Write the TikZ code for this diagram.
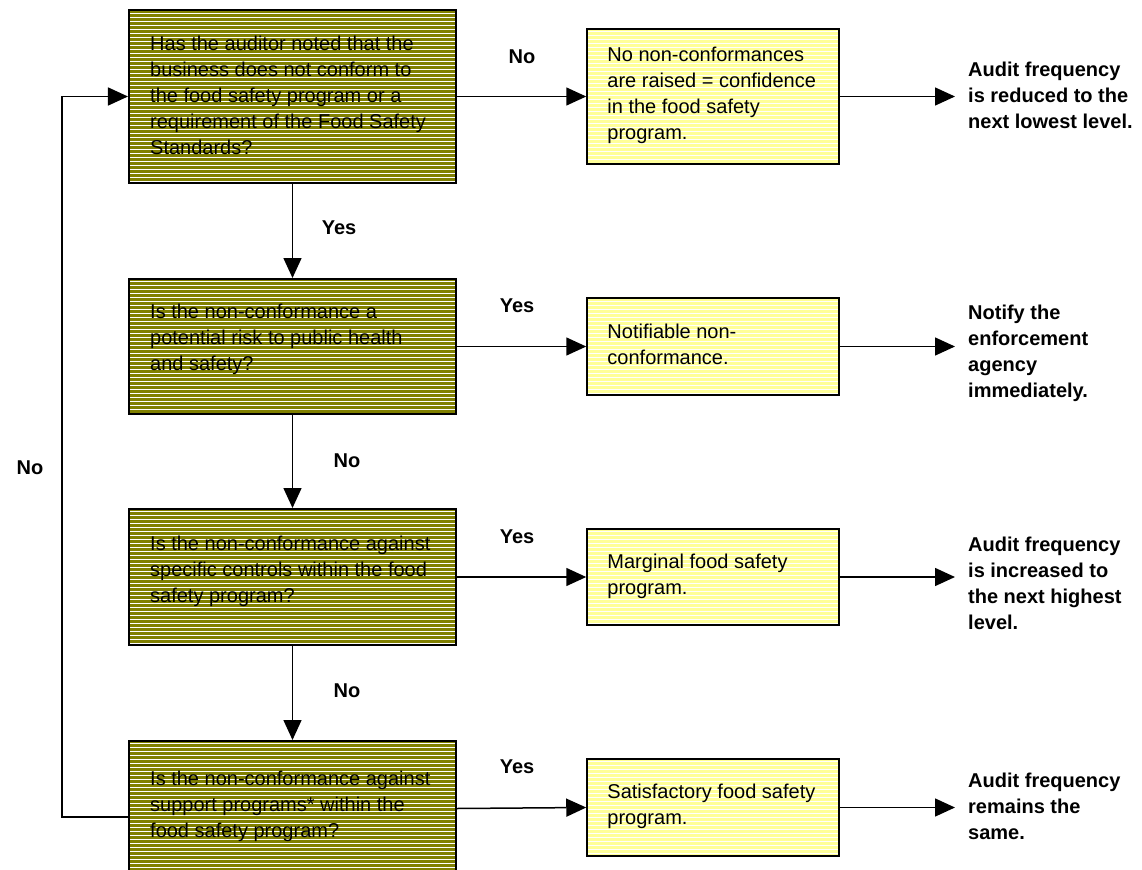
\documentclass[tikz,border=0pt]{standalone}
\usepackage{fontspec}
\setmainfont{Liberation Sans}
\usepackage{tikz}
\usetikzlibrary{positioning}
\usetikzlibrary{arrows.meta}

\definecolor{qolive}{RGB}{128,128,0}
\definecolor{oyellow}{RGB}{255,255,153}

\tikzset{
  stripe start/.store in=\stripestart, stripe start=2.5,
  stripes/.style = {path picture={
    \foreach \k in {0,4,...,180}
      \draw[white, line width=#1]
        ([yshift=-\k bp-\stripestart bp]path picture bounding box.north west) --
        ([yshift=-\k bp-\stripestart bp]path picture bounding box.north east);}},
  question/.style = {draw=black, line width=2bp, fill=qolive, stripes=1bp,
    minimum width=327bp, minimum height=135bp, inner sep=0pt},
  outcome/.style = {draw=black, line width=1.5bp, fill=oyellow, stripes=1bp,
    minimum width=252bp, minimum height=97bp, inner sep=0pt},
  boxtext/.style = {align=left, inner sep=0pt, font=\fontsize{20bp}{26bp}\selectfont},
  action/.style = {anchor=north west, align=left, inner sep=0pt,
    font=\fontsize{20bp}{26bp}\selectfont\bfseries},
  answer/.style = {inner sep=0pt, font=\fontsize{20bp}{26bp}\selectfont\bfseries},
  arrow/.style = {-{Triangle[length=20bp,width=18bp]}, line width=1.5bp}
}

\begin{document}
\begin{tikzpicture}[x=1bp,y=-1bp]
\path[use as bounding box, clip] (0,0) rectangle (1142,870);

% questions
\node[question, minimum height=173bp, stripe start=3.2] (q1) at (292.5,96.5) {};
\node[question] (q2) at (292.5,346.5) {};
\node[question, minimum height=136bp] (q3) at (292.5,577) {};
\node[question] (q4) at (292.5,808.5) {};
\node[boxtext, below right=27bp and 22bp of q1.north west] (q1t) {Has the auditor noted that the\\business does not conform to\\the food safety program or a\\requirement of the Food Safety\\Standards?};
\node[boxtext, below right=26bp and 22bp of q2.north west] (q2t) {Is the non-conformance a\\potential risk to public health\\and safety?};
\node[boxtext, below right=28bp and 22bp of q3.north west] (q3t) {Is the non-conformance against\\specific controls within the food\\safety program?};
\node[boxtext, below right=31bp and 22bp of q4.north west] (q4t) {Is the non-conformance against\\support programs* within the\\food safety program?};

% outcomes
\node[outcome, minimum height=135bp] (y1) at (713,96.5) {};
\node[outcome, stripe start=3] (y2) at (713,346.5) {};
\node[outcome, minimum height=96bp] (y3) at (713,577) {};
\node[outcome] (y4) at (713,807.5) {};
\node[boxtext, below right=19bp and 21bp of y1.north west] (y1t) {No non-conformances\\are raised = confidence\\in the food safety\\program.};
\node[boxtext, below right=27bp and 21bp of y2.north west] (y2t) {Notifiable non-\\conformance.};
\node[boxtext, below right=26bp and 21bp of y3.north west] (y3t) {Marginal food safety\\program.};
\node[boxtext, below right=26bp and 21bp of y4.north west] (y4t) {Satisfactory food safety\\program.};

% actions
\node[action] (r1) at (968,62) {Audit frequency\\is reduced to the\\next lowest level.};
\node[action] (r2) at (968,305) {Notify the\\enforcement\\agency\\immediately.};
\node[action] (r3) at (968,537) {Audit frequency\\is increased to\\the next highest\\level.};
\node[action] (r4) at (968,773) {Audit frequency\\remains the\\same.};

% answers
\node[answer] (n1) at (522,57) {No};
\node[answer] (s1) at (339,228) {Yes};
\node[answer] (s2) at (517,306) {Yes};
\node[answer] (n2) at (347,461) {No};
\node[answer] (s3) at (517,537) {Yes};
\node[answer] (n3) at (347,691) {No};
\node[answer] (s4) at (517,767) {Yes};
\node[answer] (n4) at (30,468) {No};

% connectors
\draw[arrow] (q1.south) -- (q2.north);
\draw[arrow] (q2.south) -- (q3.north);
\draw[arrow] (q3.south) -- (q4.north);
\draw[arrow] (q1.east) -- (y1.west);
\draw[arrow] (q2.east) -- (y2.west);
\draw[arrow] (q3.east) -- (y3.west);
\draw[arrow] (q4.east) -- (y4.west);
\draw[arrow, shorten >=13bp] (y1.east) -- (y1.east -| r1.west);
\draw[arrow, shorten >=13bp] (y2.east) -- (y2.east -| r2.west);
\draw[arrow, shorten >=13bp] (y3.east) -- (y3.east -| r3.west);
\draw[arrow, shorten >=13bp] (y4.east) -- (y4.east -| r4.west);
\coordinate (loop) at (62,817);
\draw[arrow] (q4.west |- loop) -- (loop) |- (q1.west);
\end{tikzpicture}
\end{document}
